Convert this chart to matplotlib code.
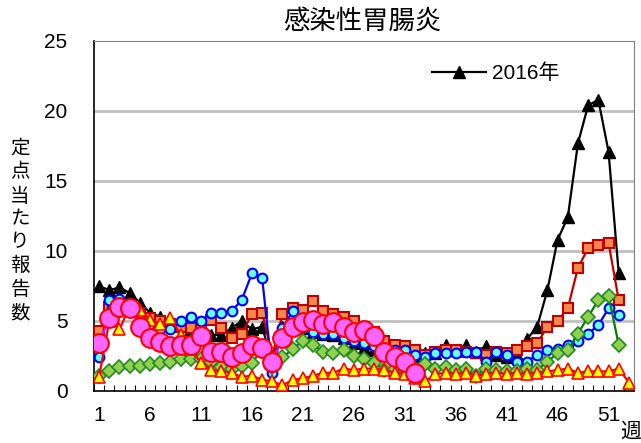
import numpy as np
import matplotlib
matplotlib.use('Agg')
import matplotlib.pyplot as plt

plt.rcParams['font.family'] = ['Liberation Sans', 'Noto Sans CJK JP', 'DejaVu Sans']

## data (per-sentinel reports by week)
weeks = np.arange(1, 54)

y2016 = [7.5, 7.2, 7.4, 7.0, 6.3, 5.6, 5.3, 5.0, 4.7, 4.4,
         4.2, 4.0, 4.0, 4.5, 5.0, 4.4, 4.6, 2.0, 4.6, 4.8,
         4.5, 4.2, 4.1, 4.0, 3.8, 3.4, 3.1, 2.9, 2.8, 2.7,
         2.6, 2.5, 2.7, 2.7, 3.3, 2.9, 3.3, 2.8, 3.2, 2.6,
         2.4, 2.6, 3.7, 4.6, 7.2, 10.8, 12.4, 17.7, 20.4, 20.8, 17.1, 8.4]

y_orange = [4.3, 6.0, 6.3, 6.0, 5.6, 5.2, 5.0, 4.8, 4.6, 4.5,
            4.4, 5.1, 4.5, 3.8, 4.1, 5.5, 5.6, 2.5, 5.5, 5.9,
            5.8, 6.4, 5.7, 5.5, 5.3, 5.0, 4.6, 4.2, 3.6, 3.3,
            3.2, 2.9, 2.6, 2.8, 2.9, 2.9, 2.8, 2.7, 2.6, 2.8,
            2.7, 2.9, 3.2, 3.4, 4.6, 5.0, 5.9, 8.8, 10.2, 10.4, 10.6, 6.5]

y_blue = [2.4, 6.5, 6.6, 6.0, 4.6, 4.8, 4.4, 4.4, 5.0, 5.3,
          5.0, 5.6, 5.6, 5.7, 6.5, 8.4, 8.1, 1.3, 4.5, 5.7,
          4.8, 4.2, 4.1, 4.1, 3.8, 3.6, 3.4, 3.2, 3.0, 2.9,
          2.9, 2.6, 2.4, 2.7, 2.7, 2.7, 2.8, 2.8, 2.1, 2.8,
          2.6, 2.1, 2.1, 2.6, 2.9, 3.0, 3.3, 3.6, 4.1, 4.7, 5.9, 5.4]

y_green = [1.1, 1.4, 1.7, 1.8, 1.8, 1.9, 2.0, 2.1, 2.3, 2.3,
           2.3, 2.1, 1.7, 1.6, 1.8, 2.0, 3.0, 1.7, 2.4, 3.0,
           3.6, 3.3, 2.8, 2.7, 2.9, 2.5, 2.3, 2.0, 1.5, 1.6,
           1.5, 1.3, 1.9, 1.6, 1.7, 1.5, 1.6, 1.1, 1.6, 1.5,
           1.4, 1.4, 1.6, 1.5, 2.1, 2.7, 2.9, 4.1, 5.3, 6.5, 6.8, 3.3]

y_yellow = [1.0, 5.0, 4.4, 6.0, 5.8, 5.1, 4.8, 5.2, 4.0, 3.0,
            2.0, 1.5, 1.4, 1.3, 1.0, 1.1, 0.8, 0.7, 0.4, 0.8,
            0.9, 1.1, 1.3, 1.3, 1.6, 1.5, 1.6, 1.6, 1.5, 1.3,
            1.2, 0.9, 0.7, 1.2, 1.3, 1.2, 1.3, 1.1, 1.2, 1.3,
            1.2, 1.3, 1.2, 1.3, 1.4, 1.5, 1.6, 1.3, 1.4, 1.4, 1.4, 1.6, 0.6]

y_pink = [3.4, 5.2, 6.0, 5.9, 4.6, 3.8, 3.5, 3.2, 3.3, 3.3,
          3.9, 2.8, 2.8, 2.45, 2.7, 3.3, 3.05, 2.1, 3.8, 4.6,
          4.95, 5.1, 4.8, 4.9, 4.6, 4.2, 4.36, 3.9, 2.8, 2.45, 2.1, 1.26]

xlabels = ['1', '6', '11', '16', '21', '26', '31', '36', '41', '46', '51']

## -----------------------------------------------------------------------------

fig = plt.figure(figsize=(6.41, 4.43), dpi=100)
ax = fig.add_axes([94/641, 1-391/443, 540/641, 350/443])

def wk(v):
    return weeks[:len(v)]

ax.plot(wk(y2016), y2016, color='black', lw=1.6, marker='^', ms=8.5,
        mfc='black', mec='black', label='2016年', zorder=3)
ax.plot(wk(y_orange), y_orange, color='#C00000', lw=1.6, marker='s', ms=7.5,
        mfc='#F4894A', mec='#C00000', mew=1.5, zorder=4)
ax.plot(wk(y_blue), y_blue, color='#0000FF', lw=1.6, marker='o', ms=7,
        mfc='#66FFFF', mec='#0000FF', mew=1.5, zorder=5)
ax.plot(wk(y_green), y_green, color='#008000', lw=1.6, marker='D', ms=7,
        mfc='#92D050', mec='#228B22', mew=1.2, zorder=6)
ax.plot(wk(y_yellow), y_yellow, color='#FF0000', lw=1.6, marker='^', ms=9,
        mfc='#FFFF00', mec='#FF0000', mew=1.2, zorder=7)
ax.plot(wk(y_pink), y_pink, color='#FF00FF', lw=1.6, marker='o', ms=13.5,
        mfc='#FF66FF', mec='#FF0000', mew=1.5, zorder=8)

ax.set_xlim(0.5, 53.5)
ax.set_ylim(0, 25)

## y axis
ax.set_yticks(np.arange(0, 26, 5))
ax.tick_params(axis='y', length=0, pad=19, labelsize=15)
for g in [5, 10, 15, 20]:
    ax.axhline(g, color='#C0C0C0', lw=2, zorder=1)

## x axis: boundary ticks inside, labels centred on weeks
ax.set_xticks(np.arange(0.5, 54, 1), minor=True)
ax.set_xticks([int(s) for s in xlabels])
ax.set_xticklabels(xlabels)
ax.tick_params(axis='x', which='major', length=0, pad=11, labelsize=15)
ax.tick_params(axis='x', which='minor', direction='in', length=4, width=0.8)

for s in ['top', 'right']:
    ax.spines[s].set_color('#808080')
ax.spines['left'].set_linewidth(1.2)
ax.spines['bottom'].set_linewidth(1.2)

leg = ax.legend(loc='upper left', bbox_to_anchor=(0.61, 0.96), frameon=False,
                fontsize=15, handlelength=2.6, handletextpad=0.3, borderaxespad=0)

fig.text(362/641, 1-22/443, '感染性胃腸炎', ha='center', va='center', fontsize=19)
fig.text(20/641, 1-231/443, '\n'.join('定点当たり報告数'), ha='center', va='center',
         fontsize=14, linespacing=1.42)
fig.text(631/641, 1-432/443, '週', ha='center', va='center', fontsize=15)

fig.savefig('out.png', dpi=100)
